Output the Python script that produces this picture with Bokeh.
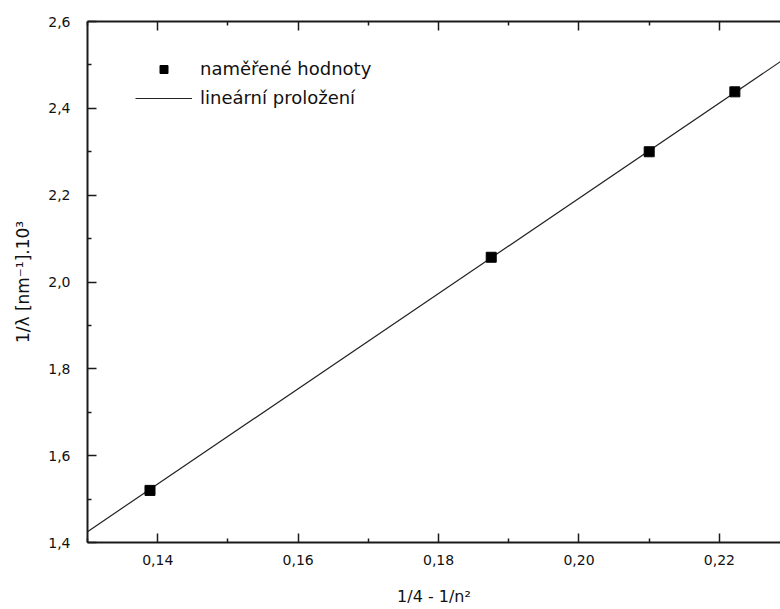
from bokeh.plotting import figure
from bokeh.models import (Range1d, FixedTicker, CustomJSTickFormatter, LinearAxis,
                          Legend, LegendItem)
from bokeh.embed import file_html
from bokeh.resources import INLINE

# ---- data ----
x_meas = [0.1389, 0.1875, 0.2100, 0.2222]
y_meas = [1.520, 2.057, 2.300, 2.438]

fit_x = [0.13, 0.23]
fit_y = [1.425, 2.522]

x_major = [0.14, 0.16, 0.18, 0.20, 0.22]
x_minor = [0.13, 0.15, 0.17, 0.19, 0.21, 0.23]
y_major = [1.4, 1.6, 1.8, 2.0, 2.2, 2.4, 2.6]
y_minor = [1.5, 1.7, 1.9, 2.1, 2.3, 2.5]

legend_labels = ["naměřené hodnoty", "lineární proložení"]
x_title = "1/4 - 1/n²"
y_title = "1/λ [nm⁻¹].10³"

FONT = "DejaVu Sans"
AX = "#1a1a1a"

p = figure(width=780, height=609, output_backend="svg", toolbar_location=None,
           x_range=Range1d(0.13, 0.2287), y_range=Range1d(1.4, 2.6),
           min_border_left=87, min_border_right=0, min_border_top=21, min_border_bottom=67)
p.outline_line_color = None
p.grid.visible = False
p.background_fill_color = "white"
p.border_fill_color = "white"

xt = FixedTicker(ticks=x_major, minor_ticks=x_minor)
yt = FixedTicker(ticks=y_major, minor_ticks=y_minor)
xf = CustomJSTickFormatter(code="return tick.toFixed(2).replace('.', ',');")
yf = CustomJSTickFormatter(code="return tick.toFixed(1).replace('.', ',');")


def style(ax):
    ax.axis_line_color = AX
    ax.axis_line_width = 2
    ax.major_tick_line_color = AX
    ax.minor_tick_line_color = AX
    ax.major_tick_line_width = 1.5
    ax.minor_tick_line_width = 1.5
    ax.major_tick_in = 9
    ax.major_tick_out = 0
    ax.minor_tick_in = 4
    ax.minor_tick_out = 0
    ax.major_label_text_font = FONT
    ax.major_label_text_font_size = "14px"
    ax.major_label_text_color = "#111111"
    ax.axis_label_text_font = FONT
    ax.axis_label_text_font_style = "normal"
    ax.axis_label_text_color = "#111111"


for ax in p.xaxis:
    ax.ticker = xt
    ax.formatter = xf
    style(ax)
    ax.major_label_standoff = 12
    ax.axis_label = x_title
    ax.axis_label_text_font_size = "16px"
    ax.axis_label_standoff = 19
for ax in p.yaxis:
    ax.ticker = yt
    ax.formatter = yf
    style(ax)
    ax.major_label_standoff = 17
    ax.axis_label = y_title
    ax.axis_label_text_font_size = "17px"
    ax.axis_label_standoff = 12

top = LinearAxis(ticker=xt, formatter=CustomJSTickFormatter(code="return '';"))
style(top)
top.major_label_standoff = 0
p.add_layout(top, "above")

fit_r = p.line(fit_x, fit_y, line_color="#222222", line_width=1.2)
pts_r = p.scatter(x_meas, y_meas, marker="square", size=10,
                  fill_color="black", line_color="black")

legend = Legend(items=[LegendItem(label=legend_labels[0], renderers=[pts_r]),
                       LegendItem(label=legend_labels[1], renderers=[fit_r])],
                location=(48, 434), padding=0, margin=0, spacing=8,
                glyph_width=57, glyph_height=20, label_height=20, label_standoff=8,
                label_text_font=FONT, label_text_font_size="18px", label_text_color="#111111",
                border_line_color=None, background_fill_alpha=0)
p.add_layout(legend, "center")

open("out.html", "w").write(file_html(p, INLINE))
